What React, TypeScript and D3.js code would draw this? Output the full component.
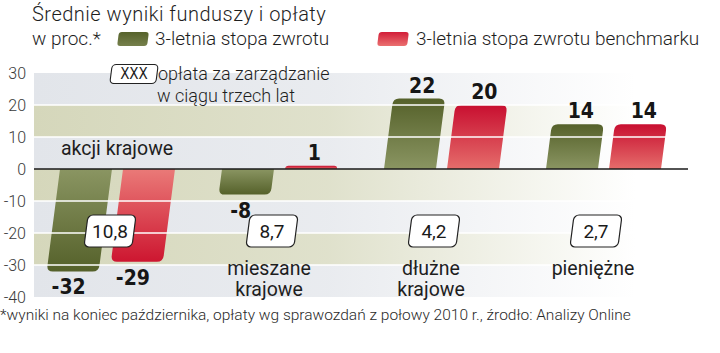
import React, { useEffect, useRef } from 'react';
import * as d3 from 'd3';

const categories = ['akcji krajowe', 'mieszane krajowe', 'dłużne krajowe', 'pieniężne'];
const categoryLines = [['akcji krajowe'], ['mieszane', 'krajowe'], ['dłużne', 'krajowe'], ['pieniężne']];
const fundReturns = [-32, -8, 22, 14];
const benchmarkReturns = [-29, 1, 20, 14];
const fees = ['10,8', '8,7', '4,2', '2,7'];
const yTicks = [30, 20, 10, 0, -10, -20, -30, -40];
const seriesNames = ['3-letnia stopa zwrotu', '3-letnia stopa zwrotu benchmarku'];

const LIGHT = 'Roboto, sans-serif';
const BOLD = '"DejaVu Sans Condensed", "DejaVu Sans", sans-serif';
const SKEW = 0.13;

// bar path with rounded corners at the value end
function barPath(x: number, y0: number, y1: number, w: number, r: number) {
  const h = Math.abs(y1 - y0);
  const rr = Math.min(r, h, w / 2);
  const s = y1 < y0 ? 1 : -1; // 1 => bar grows upward
  return `M${x},${y0}L${x},${y1 + s * rr}Q${x},${y1} ${x + rr},${y1}` +
    `L${x + w - rr},${y1}Q${x + w},${y1} ${x + w},${y1 + s * rr}L${x + w},${y0}Z`;
}

const App = () => {
  const svgRef = useRef<SVGSVGElement>(null);

  useEffect(() => {
    const svg = d3.select(svgRef.current);
    svg.selectAll('*').remove();

    const left = 34, right = 688;
    const y = d3.scaleLinear().domain([-40, 30]).range([297, 73]);
    const x = d3.scaleBand().domain(categories).range([36, 684]).paddingInner(0);
    const xs = d3.scaleBand().domain(['fund', 'bench']).range([-57, 58]).paddingInner(0.175);
    const y0 = y(0);
    const skewAngle = -Math.atan(SKEW) * 180 / Math.PI;

    const defs = svg.append('defs');
    const grad = (id: string, c1: string, c2: string) => {
      const g = defs.append('linearGradient').attr('id', id)
        .attr('x1', 0).attr('y1', 0).attr('x2', 0).attr('y2', 1);
      g.append('stop').attr('offset', '0%').attr('stop-color', c1);
      g.append('stop').attr('offset', '100%').attr('stop-color', c2);
    };
    grad('greenPos', '#55612a', '#8a9562');
    grad('greenNeg', '#8a9562', '#55612a');
    grad('redPos', '#c80f30', '#e56d6b');
    grad('redNeg', '#ea7a78', '#cd1630');
    grad('legGreen', '#56622b', '#76804c');
    grad('legRed', '#d21d38', '#ea7070');

    const bandColors = ['#e2e5ea', '#d5d7bb'];
    bandColors.forEach((c, i) => {
      const g = defs.append('linearGradient').attr('id', 'band' + i)
        .attr('gradientUnits', 'userSpaceOnUse')
        .attr('x1', left).attr('x2', right).attr('y1', 0).attr('y2', 0);
      g.append('stop').attr('offset', '0%').attr('stop-color', c);
      g.append('stop').attr('offset', '45%').attr('stop-color', c).attr('stop-opacity', 0.75);
      g.append('stop').attr('offset', '92%').attr('stop-color', c).attr('stop-opacity', 0);
    });

    // background bands
    const bands = d3.pairs(yTicks);
    svg.append('g').selectAll('rect').data(bands).enter().append('rect')
      .attr('x', left).attr('width', right - left)
      .attr('y', d => y(d[0])).attr('height', d => y(d[1]) - y(d[0]))
      .attr('fill', (d, i) => `url(#band${i % 2})`);

    // y tick labels
    svg.append('g').selectAll('text').data(yTicks).enter().append('text')
      .attr('x', 26).attr('y', d => y(d)).attr('dy', '0.36em')
      .attr('text-anchor', 'end')
      .style('font-family', LIGHT).style('font-weight', 300).style('font-size', '16px')
      .style('fill', '#3a3a3a')
      .text(d => d);

    // bars
    const barW = xs.bandwidth();
    const series = [
      { key: 'fund', values: fundReturns, pos: 'greenPos', neg: 'greenNeg' },
      { key: 'bench', values: benchmarkReturns, pos: 'redPos', neg: 'redNeg' },
    ];
    const barsG = svg.append('g')
      .attr('transform', `translate(0,${y0}) skewX(${skewAngle}) translate(0,${-y0})`);
    series.forEach(s => {
      barsG.selectAll('.b-' + s.key).data(s.values).enter().append('path')
        .attr('d', (v, i) => barPath((x(categories[i]) as number) + x.bandwidth() / 2 + (xs(s.key) as number), y0, y(v), barW, 6))
        .attr('fill', v => `url(#${v >= 0 ? s.pos : s.neg})`);
    });

    // white grid lines over bars
    svg.append('g').selectAll('line').data(yTicks.filter(t => t !== 0 && t !== 30 && t !== -40))
      .enter().append('line')
      .attr('x1', left).attr('x2', right)
      .attr('y1', d => y(d)).attr('y2', d => y(d))
      .attr('stroke', '#fff').attr('stroke-width', 1.6);

    svg.append('line').attr('x1', left).attr('x2', right).attr('y1', y0).attr('y2', y0)
      .attr('stroke', '#1a1a1a').attr('stroke-width', 1.5);

    // value labels
    series.forEach(s => {
      svg.append('g').selectAll('text').data(s.values).enter().append('text')
        .attr('x', (v, i) => {
          const cx = (x(categories[i]) as number) + x.bandwidth() / 2 + (xs(s.key) as number) + barW / 2;
          const yv = y(v);
          return cx + SKEW * (y0 - yv) + (v < 0 ? -4 : 3);
        })
        .attr('y', v => v >= 0 ? y(v) - 6 : y(v) + 23)
        .attr('text-anchor', 'middle')
        .style('font-family', BOLD).style('font-weight', 700).style('font-size', '21px')
        .style('fill', '#161616')
        .text(v => v);
    });

    // fee boxes
    const feeG = svg.append('g');
    fees.forEach((f, i) => {
      const cx = (x(categories[i]) as number) + x.bandwidth() / 2 - 7;
      const cy = 231;
      const g = feeG.append('g')
        .attr('transform', `translate(${cx},${cy}) skewX(${skewAngle})`);
      g.append('rect').attr('x', -24).attr('y', -16).attr('width', 48).attr('height', 32)
        .attr('rx', 5).attr('fill', '#fff').attr('stroke', '#222').attr('stroke-width', 1.2);
      feeG.append('text').attr('x', cx).attr('y', cy).attr('dy', '0.36em')
        .attr('text-anchor', 'middle')
        .style('font-family', LIGHT).style('font-size', '19px').style('fill', '#1a1a1a')
        .text(f);
    });

    // category labels
    categoryLines.forEach((lines, i) => {
      const cx = (x(categories[i]) as number) + x.bandwidth() / 2;
      const t = svg.append('text')
        .attr('text-anchor', 'middle')
        .style('font-family', LIGHT).style('font-size', '19.5px').style('fill', '#1e1e1e');
      lines.forEach((ln, j) => {
        t.append('tspan')
          .attr('x', i === 0 ? cx : cx - 10)
          .attr('y', i === 0 ? 155 : 275 + j * 21)
          .text(ln);
      });
    });

    // annotation
    const ann = svg.append('g');
    ann.append('g').attr('transform', `translate(134,74) skewX(${skewAngle})`)
      .append('rect').attr('x', -23).attr('y', -9.5).attr('width', 46).attr('height', 19)
      .attr('rx', 4).attr('fill', '#fff').attr('stroke', '#222').attr('stroke-width', 1.1);
    ann.append('text').attr('x', 134).attr('y', 74).attr('dy', '0.36em').attr('text-anchor', 'middle')
      .style('font-family', BOLD).style('font-size', '15px').style('fill', '#1a1a1a').text('XXX');
    ann.append('text').attr('x', 158).attr('y', 80)
      .style('font-family', LIGHT).style('font-weight', 300).style('font-size', '18px').style('fill', '#1e1e1e')
      .text('opłata za zarządzanie');
    ann.append('text').attr('x', 157).attr('y', 102)
      .style('font-family', LIGHT).style('font-weight', 300).style('font-size', '18px').style('fill', '#1e1e1e')
      .text('w ciągu trzech lat');

    // title and legend
    const hdr = svg.append('g')
      .style('font-family', LIGHT).style('font-weight', 300).style('fill', '#1e1e1e');
    hdr.append('text').attr('x', 32).attr('y', 21).style('font-size', '20px')
      .style('letter-spacing', '0.5px')
      .text('Średnie wyniki funduszy i opłaty');
    hdr.append('text').attr('x', 32).attr('y', 45).style('font-size', '19px').text('w proc.*');

    const legend = [
      { sw: 133, tx: 155, fill: 'url(#legGreen)' },
      { sw: 393, tx: 416, fill: 'url(#legRed)' },
    ];
    legend.forEach((l, i) => {
      svg.append('g').attr('transform', `translate(${l.sw},39) skewX(${skewAngle})`)
        .append('rect').attr('x', -15).attr('y', -7).attr('width', 30).attr('height', 14)
        .attr('rx', 3).attr('fill', l.fill);
      hdr.append('text').attr('x', l.tx).attr('y', 45).style('font-size', '19px').text(seriesNames[i]);
    });

    // footnote
    svg.append('text').attr('x', 0).attr('y', 320)
      .style('font-family', LIGHT).style('font-weight', 300).style('font-size', '15.5px').style('fill', '#2a2a2a')
      .text('*wyniki na koniec października, opłaty wg sprawozdań z połowy 2010 r., źrodło: Analizy Online');
  }, []);

  return (
    <div style={{ position: 'absolute', left: 0, top: 0 }}>
      <svg ref={svgRef} width={720} height={353} style={{ display: 'block', background: '#fff' }} />
    </div>
  );
};

export default App;
